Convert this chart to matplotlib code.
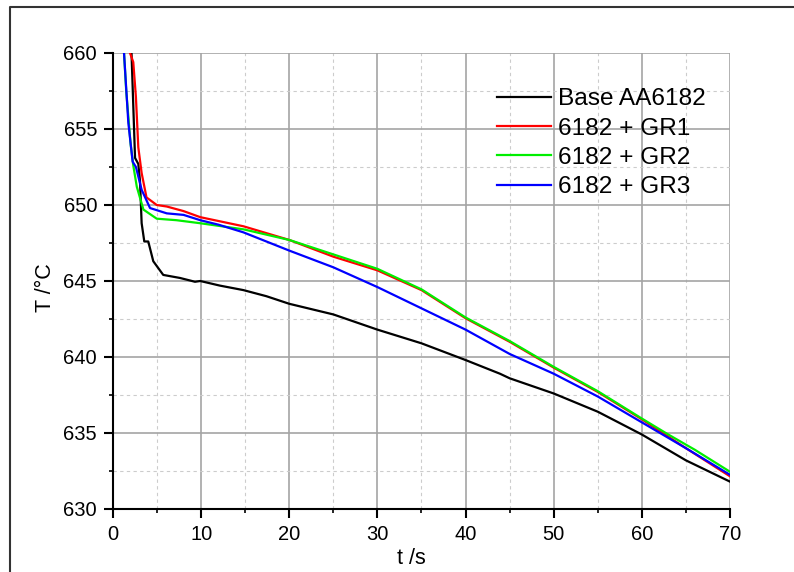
import numpy as np
import matplotlib
matplotlib.use('Agg')
import matplotlib.pyplot as plt
from matplotlib.ticker import MultipleLocator
from matplotlib.lines import Line2D

plt.rcParams['font.family'] = ['Liberation Sans', 'DejaVu Sans']

# ---- data (t in s, T in degC) ----
t_base = [1.9, 2.1, 2.5, 2.87, 3.06, 3.25, 3.55, 4.0, 4.57, 5.7, 7.6, 9.3, 9.9,
          12.1, 14.8, 17.4, 20, 25, 30, 35, 40, 43.9, 45, 50, 55, 60, 65, 70]
T_base = [662, 660, 653.1, 652.7, 651.6, 648.8, 647.6, 647.6, 646.3, 645.4, 645.2,
          644.95, 645.0, 644.7, 644.4, 644.0, 643.5, 642.8, 641.8, 640.9, 639.8,
          638.9, 638.6, 637.6, 636.4, 634.9, 633.2, 631.8]

t_gr1 = [1.8, 1.93, 2.3, 2.6, 2.87, 3.25, 3.8, 4.96, 6.1, 8.0, 9.9, 14.8, 20,
         25, 30, 35, 40, 45, 50, 55, 60, 65, 70]
T_gr1 = [661, 660, 659.4, 657.1, 653.8, 652.1, 650.5, 650.0, 649.9, 649.6, 649.2,
         648.6, 647.7, 646.6, 645.7, 644.4, 642.55, 641.0, 639.3, 637.7, 635.9,
         634.0, 632.15]

t_gr2 = [1.15, 1.25, 1.5, 2.0, 2.3, 2.7, 3.45, 4.96, 7.2, 9.9, 14.8, 20, 25, 30,
         35, 40, 45, 50, 55, 60, 63, 66, 70]
T_gr2 = [661, 660, 657.5, 654.0, 652.6, 651.2, 649.7, 649.1, 649.0, 648.8, 648.4,
         647.7, 646.75, 645.8, 644.45, 642.6, 641.05, 639.35, 637.75, 635.95,
         634.9, 633.9, 632.45]

t_gr3 = [1.1, 1.25, 1.74, 2.23, 2.6, 3.25, 4.2, 6.1, 8.0, 9.9, 12, 14.8, 20, 25,
         30, 35, 40, 45, 50, 55, 60, 65, 70]
T_gr3 = [661, 660, 655.4, 652.85, 652.5, 651.0, 649.8, 649.45, 649.35, 649.0,
         648.7, 648.2, 647.0, 645.9, 644.6, 643.2, 641.8, 640.2, 638.9, 637.4,
         635.7, 634.0, 632.25]

labels = ['Base AA6182', '6182 + GR1', '6182 + GR2', '6182 + GR3']
colors = ['#000000', '#ff0000', '#00ee00', '#0000ff']

fig = plt.figure(figsize=(7.94, 5.72), dpi=100)
ax = fig.add_axes([113/794, 1 - 509/572, 617/794, 456/572])

series = [(t_base, T_base), (t_gr1, T_gr1), (t_gr2, T_gr2), (t_gr3, T_gr3)]
for (t, T), lab, c in zip(series, labels, colors):
    ax.plot(t, T, color=c, lw=1.6, label=lab)

ax.set_xlim(0, 70)
ax.set_ylim(630, 660)
ax.xaxis.set_major_locator(MultipleLocator(10))
ax.xaxis.set_minor_locator(MultipleLocator(5))
ax.yaxis.set_major_locator(MultipleLocator(5))
ax.yaxis.set_minor_locator(MultipleLocator(2.5))

ax.grid(which='major', color='#a4a4a4', lw=1.2)
ax.grid(which='minor', color='#cccccc', lw=0.8, linestyle=(0, (3, 3)))
ax.set_axisbelow(True)
# no gridline on the far edges
for tk in ax.xaxis.get_major_ticks():
    if tk.get_loc() >= 70:
        tk.gridline.set_visible(False)
for tk in ax.yaxis.get_major_ticks():
    if tk.get_loc() >= 660:
        tk.gridline.set_visible(False)

for side in ['top', 'right']:
    ax.spines[side].set_visible(False)
for side in ['left', 'bottom']:
    ax.spines[side].set_linewidth(1.5)

ax.tick_params(which='major', direction='out', length=6.5, width=1.5,
               labelsize=14.5, pad=5)
ax.tick_params(which='minor', direction='out', length=3.2, width=1.2)

ax.set_xlabel('t /s', fontsize=15.5)
ax.set_ylabel('T /°C', fontsize=15.5)
ax.xaxis.set_label_coords(0.483, -0.085)
ax.yaxis.set_label_coords(-0.092, 0.486)

ax.legend(loc='upper left', bbox_to_anchor=(497/794, 1 - 88/572),
          bbox_transform=fig.transFigure, frameon=False, fontsize=17.6,
          handlelength=2.2, handletextpad=0.28, labelspacing=0.3,
          borderpad=0, borderaxespad=0)

# partial frame around the figure
fx, fy = 10/794, 1 - 7/572
fig.add_artist(Line2D([fx, fx, 1.0], [0.0, fy, fy], transform=fig.transFigure,
                      color='#333333', lw=1.5))

fig.savefig('out.png', dpi=100)
